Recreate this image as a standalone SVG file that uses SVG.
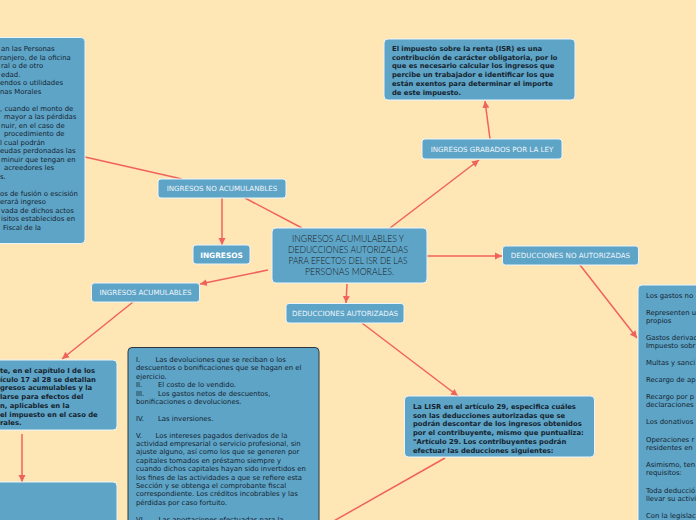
<svg xmlns="http://www.w3.org/2000/svg" width="696" height="520" viewBox="0 0 696 520">
<style>
.bg{fill:#FFE6B5}
.n{fill:#5DA4C7;stroke:#EAF4FA;stroke-width:1}
.nd{fill:#5DA4C7;stroke:#2E3740;stroke-width:1}
.lbl{font-family:"DejaVu Sans",Verdana,sans-serif;font-size:7.1px;fill:#EEF5F9;text-anchor:middle}
.lblb{font-family:"DejaVu Sans",Verdana,sans-serif;font-size:7.4px;font-weight:bold;fill:#FFFFFF;text-anchor:middle}
.t{font-family:"DejaVu Sans",Verdana,sans-serif;font-size:6.9px;fill:#16232E}
.tb{font-family:"DejaVu Sans",Verdana,sans-serif;font-size:6.8px;font-weight:bold;fill:#16232E}
.title{font-family:Lato,"DejaVu Sans Condensed",sans-serif;font-weight:300;font-size:10.5px;fill:#1A1A1A;text-anchor:middle}
.c{stroke:#F0625D;stroke-width:1.5;fill:none}
</style>
<defs>
<marker id="ah" markerUnits="userSpaceOnUse" markerWidth="8" markerHeight="8" refX="7" refY="4" orient="auto">
<path d="M0,0.5 L7,4 L0,7.5 z" fill="#F0625D"/>
</marker>
</defs>
<rect class="bg" x="0" y="0" width="696" height="520"/>

<g id="connectors">
<line class="c" x1="390" y1="228" x2="479" y2="160" marker-end="url(#ah)"/>
<line class="c" x1="490" y1="139" x2="485" y2="101" marker-end="url(#ah)"/>
<line class="c" x1="302" y1="228" x2="245" y2="198"/>
<line class="c" x1="182" y1="179" x2="85" y2="157"/>
<line class="c" x1="222" y1="198" x2="222" y2="245" marker-end="url(#ah)"/>
<line class="c" x1="268" y1="270" x2="200" y2="284" marker-end="url(#ah)"/>
<line class="c" x1="133" y1="302" x2="62" y2="359" marker-end="url(#ah)"/>
<line class="c" x1="22" y1="434" x2="22" y2="482" marker-end="url(#ah)"/>
<line class="c" x1="427" y1="256" x2="502" y2="256" marker-end="url(#ah)"/>
<line class="c" x1="580" y1="265" x2="637" y2="338" marker-end="url(#ah)"/>
<line class="c" x1="347" y1="284" x2="346" y2="303" marker-end="url(#ah)"/>
<line class="c" x1="362" y1="323" x2="458" y2="396" marker-end="url(#ah)"/>
<line class="c" x1="445" y1="458" x2="332" y2="522"/>
</g>

<g id="node-no-acum-text">
<rect class="n" x="-150" y="37.5" width="235" height="206" rx="4"/>
<text class="t">
<tspan x="1" y="51">an las Personas</tspan>
<tspan x="0" y="59.5">ranjero, de la oficina</tspan>
<tspan x="1" y="68">ral o de otro</tspan>
<tspan x="1" y="76.5">edad.</tspan>
<tspan x="0" y="85">endos o utilidades</tspan>
<tspan x="0" y="93.5">nas Morales</tspan>
<tspan x="0" y="110.5">, cuando el monto de</tspan>
<tspan x="4" y="119">mayor a las pérdidas</tspan>
<tspan x="1" y="127.5">nuir, en el caso de</tspan>
<tspan x="4" y="136">procedimiento de</tspan>
<tspan x="0" y="144.5">l cual podrán</tspan>
<tspan x="0" y="153">eudas perdonadas las</tspan>
<tspan x="1" y="161.5">minuir que tengan en</tspan>
<tspan x="4" y="170">acreedores les</tspan>
<tspan x="0" y="178.5">s.</tspan>
<tspan x="0" y="195.5">os de fusión o escisión</tspan>
<tspan x="0" y="204">erará ingreso</tspan>
<tspan x="1" y="212.5">vada de dichos actos</tspan>
<tspan x="1" y="221">isitos establecidos en</tspan>
<tspan x="3" y="229.5">Fiscal de la</tspan>
</text>
</g>

<g id="node-isr">
<rect class="n" x="384" y="39" width="191" height="61" rx="4"/>
<text class="tb">
<tspan x="392" y="51">El impuesto sobre la renta (ISR) es una</tspan>
<tspan x="392" y="59.7">contribución de carácter obligatoria, por lo</tspan>
<tspan x="392" y="68.4">que es necesario calcular los ingresos que</tspan>
<tspan x="392" y="77.1">percibe un trabajador e identificar los que</tspan>
<tspan x="392" y="85.8">están exentos para determinar el importe</tspan>
<tspan x="392" y="94.5">de este impuesto.</tspan>
</text>
</g>

<g id="node-grabados">
<rect class="n" x="422" y="139" width="140" height="20" rx="3"/>
<text class="lbl" x="492" y="151.5">INGRESOS GRABADOS POR LA LEY</text>
</g>

<g id="node-no-acumulanbles">
<rect class="n" x="158" y="179" width="128" height="19" rx="3"/>
<text class="lbl" x="222" y="191.2">INGRESOS NO ACUMULANBLES</text>
</g>

<g id="node-central">
<rect class="n" x="272" y="228" width="155" height="55" rx="4"/>
<text class="title" x="348" y="242" textLength="112" lengthAdjust="spacingAndGlyphs">INGRESOS ACUMULABLES Y</text>
<text class="title" x="348" y="253" textLength="120" lengthAdjust="spacingAndGlyphs">DEDUCCIONES AUTORIZADAS</text>
<text class="title" x="348" y="264" textLength="119" lengthAdjust="spacingAndGlyphs">PARA EFECTOS DEL ISR DE LAS</text>
<text class="title" x="349.5" y="275" textLength="89" lengthAdjust="spacingAndGlyphs">PERSONAS MORALES.</text>
</g>

<g id="node-ingresos">
<rect class="n" x="193" y="245" width="57" height="19" rx="3"/>
<text class="lblb" x="221.5" y="257.5">INGRESOS</text>
</g>

<g id="node-acumulables">
<rect class="n" x="91.5" y="283" width="108" height="19" rx="3"/>
<text class="lbl" x="145.5" y="295.2">INGRESOS ACUMULABLES</text>
</g>

<g id="node-ded-no-aut">
<rect class="n" x="502.5" y="246" width="136" height="19" rx="3"/>
<text class="lbl" x="570.5" y="258.2">DEDUCCIONES NO AUTORIZADAS</text>
</g>

<g id="node-ded-aut">
<rect class="n" x="286" y="303.5" width="118" height="19.5" rx="3"/>
<text class="lbl" x="345" y="316">DEDUCCIONES AUTORIZADAS</text>
</g>

<g id="node-acum-text">
<rect class="n" x="-150" y="360" width="267" height="70" rx="4"/>
<text class="tb">
<tspan x="0" y="373">te, en el capítulo I de los</tspan>
<tspan x="0" y="381.7">ículo 17 al 28 se detallan</tspan>
<tspan x="0" y="390.4">gresos acumulables y la</tspan>
<tspan x="0" y="399.1">larse para efectos del</tspan>
<tspan x="0" y="407.8">n, aplicables en la</tspan>
<tspan x="0" y="416.5">el impuesto en el caso de</tspan>
<tspan x="0" y="425.2">rales.</tspan>
</text>
</g>

<g id="node-bottom-left">
<rect class="n" x="-150" y="482" width="267" height="70" rx="4"/>
</g>

<g id="node-deducciones-list">
<rect class="nd" x="128" y="347.5" width="191" height="200" rx="4"/>
<text class="t">
<tspan x="136" y="362">I.</tspan><tspan x="155.5">Las devoluciones que se reciban o los</tspan>
<tspan x="136" y="370.4">descuentos o bonificaciones que se hagan en el</tspan>
<tspan x="136" y="378.8">ejercicio.</tspan>
<tspan x="136" y="387.2">II.</tspan><tspan x="158">El costo de lo vendido.</tspan>
<tspan x="136" y="395.6">III.</tspan><tspan x="158">Los gastos netos de descuentos,</tspan>
<tspan x="136" y="404">bonificaciones o devoluciones.</tspan>
<tspan x="136" y="420.8">IV.</tspan><tspan x="158">Las inversiones.</tspan>
<tspan x="136" y="437.6">V.</tspan><tspan x="155.5">Los intereses pagados derivados de la</tspan>
<tspan x="136" y="446">actividad empresarial o servicio profesional, sin</tspan>
<tspan x="136" y="454.4">ajuste alguno, así como los que se generen por</tspan>
<tspan x="136" y="462.8">capitales tomados en préstamo siempre y</tspan>
<tspan x="136" y="471.2">cuando dichos capitales hayan sido invertidos en</tspan>
<tspan x="136" y="479.6">los fines de las actividades a que se refiere esta</tspan>
<tspan x="136" y="488">Sección y se obtenga el comprobante fiscal</tspan>
<tspan x="136" y="496.4">correspondiente. Los créditos incobrables y las</tspan>
<tspan x="136" y="504.8">pérdidas por caso fortuito.</tspan>
<tspan x="136" y="521.6">VI.</tspan><tspan x="158.5">Las aportaciones efectuadas para la</tspan>
</text>
</g>

<g id="node-lisr">
<rect class="n" x="404.5" y="396" width="190" height="61" rx="4"/>
<text class="tb">
<tspan x="413" y="409">La LISR en el artículo 29, especifica cuáles</tspan>
<tspan x="413" y="417.7">son las deducciones autorizadas que se</tspan>
<tspan x="413" y="426.4">podrán descontar de los ingresos obtenidos</tspan>
<tspan x="413" y="435.1">por el contribuyente, mismo que puntualiza:</tspan>
<tspan x="413" y="443.8">"Artículo 29. Los contribuyentes podrán</tspan>
<tspan x="413" y="452.5">efectuar las deducciones siguientes:</tspan>
</text>
</g>

<g id="node-no-aut-list">
<rect class="n" x="638" y="285" width="100" height="260" rx="4"/>
<text class="t">
<tspan x="646" y="298">Los gastos no</tspan>
<tspan x="646" y="315">Representen u</tspan>
<tspan x="646" y="323.4">propios</tspan>
<tspan x="646" y="340">Gastos derivad</tspan>
<tspan x="646" y="348.4">Impuesto sobr</tspan>
<tspan x="646" y="365">Multas y sanci</tspan>
<tspan x="646" y="382">Recargo de ap</tspan>
<tspan x="646" y="399">Recargo por p</tspan>
<tspan x="646" y="407.4">declaraciones</tspan>
<tspan x="646" y="424">Los donativos</tspan>
<tspan x="646" y="442">Operaciones r</tspan>
<tspan x="646" y="450.4">residentes en</tspan>
<tspan x="646" y="467">Asimismo, ten</tspan>
<tspan x="646" y="475.4">requisitos:</tspan>
<tspan x="646" y="493">Toda deducció</tspan>
<tspan x="646" y="501.4">llevar su activi</tspan>
<tspan x="646" y="518">Con la legislac</tspan>
</text>
</g>
</svg>
